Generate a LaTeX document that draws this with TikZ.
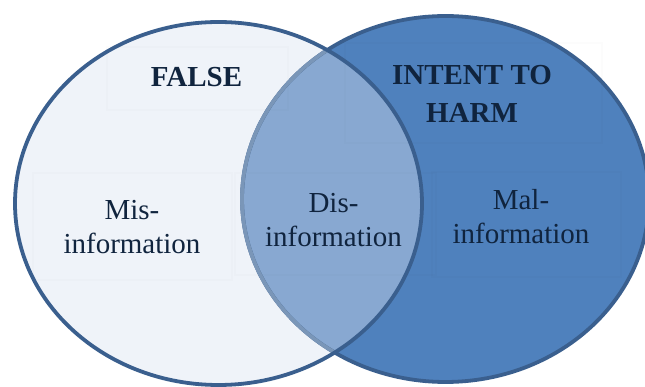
\documentclass[tikz,border=0pt]{standalone}
\usepackage{fontspec}
\setmainfont{Liberation Serif}
\begin{document}
\begin{tikzpicture}[x=1pt,y=-1pt,
  txt/.style={text=textnavy,inner sep=0pt,anchor=base,font=\fontsize{29}{34}\selectfont},
  btxt/.style={txt,font=\fontsize{29}{34}\selectfont\bfseries},
  ghost/.style={draw=black,draw opacity=0.012,line width=2.5pt}]
\definecolor{textnavy}{HTML}{10243E}
\definecolor{lightfill}{HTML}{EFF3F9}
\definecolor{bluefill}{HTML}{4F81BD}
\definecolor{midfill}{HTML}{88A8D1}
\definecolor{outline}{HTML}{3A5F8E}
\definecolor{mutedline}{HTML}{7A96B8}
\useasboundingbox (0,0) rectangle (645,387);
\clip (0,0) rectangle (645,387);
% fills
\fill[lightfill] (218.5,203.5) ellipse [x radius=203.5, y radius=181.5];
\fill[bluefill] (445.5,199) ellipse [x radius=203.5, y radius=183];
\begin{scope}
  \clip (218.5,203.5) ellipse [x radius=203.5, y radius=181.5];
  \fill[midfill] (445.5,199) ellipse [x radius=203.5, y radius=183];
\end{scope}
% faint text boxes
\draw[ghost] (107,47) rectangle (288,110);
\draw[ghost] (345,43) rectangle (602,143);
\draw[ghost] (33,173) rectangle (232,280);
\draw[ghost] (235,173) rectangle (436,275);
\draw[ghost] (432,172) rectangle (621,277);
% outlines
\draw[outline,line width=3.8pt] (445.5,199) ellipse [x radius=203.5, y radius=183];
\begin{scope}
  \clip (218.5,203.5) ellipse [x radius=203.5, y radius=181.5];
  \draw[mutedline,line width=3.8pt] (445.5,199) ellipse [x radius=203.5, y radius=183];
\end{scope}
\draw[outline,line width=3.8pt] (218.5,203.5) ellipse [x radius=203.5, y radius=181.5];
% texts
\node[btxt] (false) at (196.5,87) {FALSE};
\node[btxt] (intent) at (472,85) {INTENT TO};
\node[btxt] (harm) at (472,123) {HARM};
\node[txt] (mis) at (132,220) {Mis-};
\node[txt] (misinfo) at (132,253.5) {information};
\node[txt] (dis) at (333.5,213) {Dis-};
\node[txt] (disinfo) at (333.5,247) {information};
\node[txt] (mal) at (521,210) {Mal-};
\node[txt] (malinfo) at (521,243.5) {information};
\end{tikzpicture}
\end{document}
